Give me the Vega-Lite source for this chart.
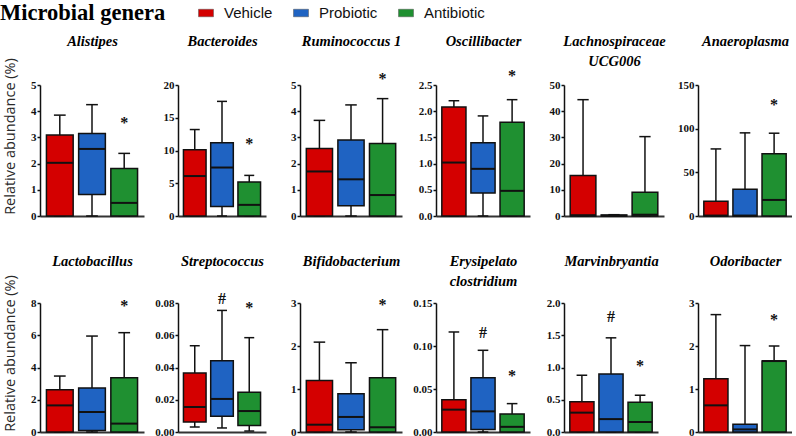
{
"$schema": "https://vega.github.io/schema/vega-lite/v6.json",
"padding": {"left": 0, "top": 5, "right": 0, "bottom": 2},
"columns": 6,
"bounds": "flush",
"align": "each",
"spacing": {"row": 87, "column": 34},
"datasets": {
"stats": [
{"genus":"Alistipes","group":"Vehicle","min":0,"q1":0,"median":2.03,"q3":3.09,"max":3.85},
{"genus":"Alistipes","group":"Probiotic","min":0,"q1":0.82,"median":2.56,"q3":3.15,"max":4.25},
{"genus":"Alistipes","group":"Antibiotic","min":0,"q1":0,"median":0.5,"q3":1.81,"max":2.39},
{"genus":"Bacteroides","group":"Vehicle","min":0,"q1":0,"median":6.1,"q3":10.1,"max":13.2},
{"genus":"Bacteroides","group":"Probiotic","min":0,"q1":1.45,"median":7.4,"q3":11.2,"max":17.5},
{"genus":"Bacteroides","group":"Antibiotic","min":0,"q1":0,"median":1.7,"q3":5.2,"max":6.2},
{"genus":"Ruminococcus 1","group":"Vehicle","min":0,"q1":0,"median":1.7,"q3":2.58,"max":3.65},
{"genus":"Ruminococcus 1","group":"Probiotic","min":0,"q1":0.39,"median":1.4,"q3":2.9,"max":4.24},
{"genus":"Ruminococcus 1","group":"Antibiotic","min":0,"q1":0,"median":0.8,"q3":2.77,"max":4.48},
{"genus":"Oscillibacter","group":"Vehicle","min":0,"q1":0,"median":1.02,"q3":2.08,"max":2.2},
{"genus":"Oscillibacter","group":"Probiotic","min":0,"q1":0.44,"median":0.9,"q3":1.4,"max":1.91},
{"genus":"Oscillibacter","group":"Antibiotic","min":0,"q1":0,"median":0.48,"q3":1.79,"max":2.22},
{"genus":"Lachnospiraceae UCG006","group":"Vehicle","min":0,"q1":0,"median":0.3,"q3":15.5,"max":44.4},
{"genus":"Lachnospiraceae UCG006","group":"Probiotic","min":0,"q1":0,"median":0.1,"q3":0.4,"max":0.5},
{"genus":"Lachnospiraceae UCG006","group":"Antibiotic","min":0,"q1":0,"median":0.5,"q3":9.1,"max":30.3},
{"genus":"Anaeroplasma","group":"Vehicle","min":0,"q1":0,"median":0.5,"q3":16.8,"max":76.8},
{"genus":"Anaeroplasma","group":"Probiotic","min":0,"q1":0,"median":0.5,"q3":30.5,"max":95.2},
{"genus":"Anaeroplasma","group":"Antibiotic","min":0,"q1":0,"median":18.4,"q3":71.3,"max":94.8},
{"genus":"Lactobacillus","group":"Vehicle","min":0,"q1":0,"median":1.65,"q3":2.62,"max":3.47},
{"genus":"Lactobacillus","group":"Probiotic","min":0,"q1":0.1,"median":1.24,"q3":2.73,"max":5.95},
{"genus":"Lactobacillus","group":"Antibiotic","min":0,"q1":0,"median":0.52,"q3":3.37,"max":6.16},
{"genus":"Streptococcus","group":"Vehicle","min":0.0031,"q1":0.0062,"median":0.0155,"q3":0.0366,"max":0.0535},
{"genus":"Streptococcus","group":"Probiotic","min":0.0025,"q1":0.0097,"median":0.0205,"q3":0.0442,"max":0.0754},
{"genus":"Streptococcus","group":"Antibiotic","min":0.0006,"q1":0.0041,"median":0.013,"q3":0.0246,"max":0.0585},
{"genus":"Bifidobacterium","group":"Vehicle","min":0,"q1":0,"median":0.17,"q3":1.2,"max":2.09},
{"genus":"Bifidobacterium","group":"Probiotic","min":0,"q1":0.05,"median":0.35,"q3":0.89,"max":1.61},
{"genus":"Bifidobacterium","group":"Antibiotic","min":0,"q1":0,"median":0.11,"q3":1.26,"max":2.38},
{"genus":"Erysipelatoclostridium","group":"Vehicle","min":0,"q1":0,"median":0.026,"q3":0.0376,"max":0.1163},
{"genus":"Erysipelatoclostridium","group":"Probiotic","min":0,"q1":0.003,"median":0.024,"q3":0.0632,"max":0.095},
{"genus":"Erysipelatoclostridium","group":"Antibiotic","min":0,"q1":0,"median":0.006,"q3":0.021,"max":0.033},
{"genus":"Marvinbryantia","group":"Vehicle","min":0,"q1":0,"median":0.3,"q3":0.47,"max":0.88},
{"genus":"Marvinbryantia","group":"Probiotic","min":0,"q1":0,"median":0.2,"q3":0.9,"max":1.46},
{"genus":"Marvinbryantia","group":"Antibiotic","min":0,"q1":0,"median":0.155,"q3":0.46,"max":0.57},
{"genus":"Odoribacter","group":"Vehicle","min":0,"q1":0,"median":0.62,"q3":1.24,"max":2.73},
{"genus":"Odoribacter","group":"Probiotic","min":0,"q1":0,"median":0.06,"q3":0.18,"max":2.01},
{"genus":"Odoribacter","group":"Antibiotic","min":0,"q1":0,"median":1.65,"q3":1.65,"max":2.0}
],
"ann": [
{"genus":"Alistipes","group":"Antibiotic","sym":"*","y":3.66},
{"genus":"Bacteroides","group":"Antibiotic","sym":"*","y":11.4},
{"genus":"Ruminococcus 1","group":"Antibiotic","sym":"*","y":5.36},
{"genus":"Oscillibacter","group":"Antibiotic","sym":"*","y":2.73},
{"genus":"Anaeroplasma","group":"Antibiotic","sym":"*","y":131},
{"genus":"Lactobacillus","group":"Antibiotic","sym":"*","y":8.0},
{"genus":"Streptococcus","group":"Probiotic","sym":"#","y":0.0842},
{"genus":"Streptococcus","group":"Antibiotic","sym":"*","y":0.0786},
{"genus":"Bifidobacterium","group":"Antibiotic","sym":"*","y":3.02},
{"genus":"Erysipelatoclostridium","group":"Probiotic","sym":"#","y":0.119},
{"genus":"Erysipelatoclostridium","group":"Antibiotic","sym":"*","y":0.069},
{"genus":"Marvinbryantia","group":"Probiotic","sym":"#","y":1.83},
{"genus":"Marvinbryantia","group":"Antibiotic","sym":"*","y":1.07},
{"genus":"Odoribacter","group":"Antibiotic","sym":"*","y":2.67}
]
},
"concat": [
{"width":104,"height":131,"data":{"name":"stats"},"transform":[{"filter":"datum.genus === 'Alistipes'"}],"resolve":{"axis":{"x":"independent"}},
"encoding":{"x":{"field":"group","type":"nominal","sort":["Vehicle","Probiotic","Antibiotic"],"scale":{"paddingInner":0.17,"paddingOuter":0.2},"axis":null}},
"layer":[
{"mark":{"type":"rule","color":"#111","strokeWidth":1.5},"encoding":{"x":{"field":"group","type":"nominal","sort":["Vehicle","Probiotic","Antibiotic"],"scale":{"paddingInner":0.17,"paddingOuter":0.2},"axis":{"title":null}},"y":{"field":"min","type":"quantitative","scale":{"domain":[0,5],"nice":false},"axis":{"values":[0,1,2,3,4,5],"format":"d","tickCount":20,"labelOverlap":false,"title":"Relative abundance (%)","titleFont":"Open Sans","titleFontSize":14.5,"titleFontWeight":"normal","titleColor":"#2a2a2a","titlePadding":13,"titleY":51}},"y2":{"field":"max"}}},
{"mark":{"type":"rule","color":"#111","strokeWidth":1.5},"encoding":{"x":{"field":"group","type":"nominal","sort":["Vehicle","Probiotic","Antibiotic"],"bandPosition":0.28,"axis":null},"x2":{"field":"group","bandPosition":0.72},"y":{"field":"max","type":"quantitative"}}},
{"mark":{"type":"rule","color":"#111","strokeWidth":1.5},"encoding":{"x":{"field":"group","type":"nominal","sort":["Vehicle","Probiotic","Antibiotic"],"bandPosition":0.28,"axis":null},"x2":{"field":"group","bandPosition":0.72},"y":{"field":"min","type":"quantitative"}}},
{"mark":{"type":"bar","stroke":"#111","strokeWidth":1.5},"encoding":{"y":{"field":"q1","type":"quantitative"},"y2":{"field":"q3"},"color":{"field":"group","type":"nominal","scale":{"domain":["Vehicle","Probiotic","Antibiotic"],"range":["#d40000","#1f63c2","#1f9031"]},"legend":{"title":"Microbial genera"}}}},
{"mark":{"type":"rule","color":"#111","strokeWidth":2},"encoding":{"x":{"field":"group","type":"nominal","sort":["Vehicle","Probiotic","Antibiotic"],"bandPosition":0,"axis":{"orient":"top","title":["Alistipes"],"titleY":-51}},"x2":{"field":"group","bandPosition":1},"y":{"field":"median","type":"quantitative"}}},
{"data":{"name":"ann"},"transform":[{"filter":"datum.genus === 'Alistipes'"}],"mark":{"type":"text","font":"Liberation Serif","fontWeight":"bold","fontSize":16,"baseline":"middle","dy":3,"color":"#111"},"encoding":{"y":{"field":"y","type":"quantitative"},"text":{"field":"sym"}}}
]},
{"width":88,"height":131,"data":{"name":"stats"},"transform":[{"filter":"datum.genus === 'Bacteroides'"}],"resolve":{"axis":{"x":"independent"}},
"encoding":{"x":{"field":"group","type":"nominal","sort":["Vehicle","Probiotic","Antibiotic"],"scale":{"paddingInner":0.17,"paddingOuter":0.2},"axis":null}},
"layer":[
{"mark":{"type":"rule","color":"#111","strokeWidth":1.5},"encoding":{"x":{"field":"group","type":"nominal","sort":["Vehicle","Probiotic","Antibiotic"],"scale":{"paddingInner":0.17,"paddingOuter":0.2},"axis":{"title":null}},"y":{"field":"min","type":"quantitative","scale":{"domain":[0,20],"nice":false},"axis":{"values":[0,5,10,15,20],"format":"d","tickCount":20,"labelOverlap":false,"title":null}},"y2":{"field":"max"}}},
{"mark":{"type":"rule","color":"#111","strokeWidth":1.5},"encoding":{"x":{"field":"group","type":"nominal","sort":["Vehicle","Probiotic","Antibiotic"],"bandPosition":0.28,"axis":null},"x2":{"field":"group","bandPosition":0.72},"y":{"field":"max","type":"quantitative"}}},
{"mark":{"type":"rule","color":"#111","strokeWidth":1.5},"encoding":{"x":{"field":"group","type":"nominal","sort":["Vehicle","Probiotic","Antibiotic"],"bandPosition":0.28,"axis":null},"x2":{"field":"group","bandPosition":0.72},"y":{"field":"min","type":"quantitative"}}},
{"mark":{"type":"bar","stroke":"#111","strokeWidth":1.5},"encoding":{"y":{"field":"q1","type":"quantitative"},"y2":{"field":"q3"},"color":{"field":"group","type":"nominal","scale":{"domain":["Vehicle","Probiotic","Antibiotic"],"range":["#d40000","#1f63c2","#1f9031"]},"legend":{"title":"Microbial genera"}}}},
{"mark":{"type":"rule","color":"#111","strokeWidth":2},"encoding":{"x":{"field":"group","type":"nominal","sort":["Vehicle","Probiotic","Antibiotic"],"bandPosition":0,"axis":{"orient":"top","title":["Bacteroides"],"titleY":-51}},"x2":{"field":"group","bandPosition":1},"y":{"field":"median","type":"quantitative"}}},
{"data":{"name":"ann"},"transform":[{"filter":"datum.genus === 'Bacteroides'"}],"mark":{"type":"text","font":"Liberation Serif","fontWeight":"bold","fontSize":16,"baseline":"middle","dy":3,"color":"#111"},"encoding":{"y":{"field":"y","type":"quantitative"},"text":{"field":"sym"}}}
]},
{"width":102,"height":131,"data":{"name":"stats"},"transform":[{"filter":"datum.genus === 'Ruminococcus 1'"}],"resolve":{"axis":{"x":"independent"}},
"encoding":{"x":{"field":"group","type":"nominal","sort":["Vehicle","Probiotic","Antibiotic"],"scale":{"paddingInner":0.17,"paddingOuter":0.2},"axis":null}},
"layer":[
{"mark":{"type":"rule","color":"#111","strokeWidth":1.5},"encoding":{"x":{"field":"group","type":"nominal","sort":["Vehicle","Probiotic","Antibiotic"],"scale":{"paddingInner":0.17,"paddingOuter":0.2},"axis":{"title":null}},"y":{"field":"min","type":"quantitative","scale":{"domain":[0,5],"nice":false},"axis":{"values":[0,1,2,3,4,5],"format":"d","tickCount":20,"labelOverlap":false,"title":null}},"y2":{"field":"max"}}},
{"mark":{"type":"rule","color":"#111","strokeWidth":1.5},"encoding":{"x":{"field":"group","type":"nominal","sort":["Vehicle","Probiotic","Antibiotic"],"bandPosition":0.28,"axis":null},"x2":{"field":"group","bandPosition":0.72},"y":{"field":"max","type":"quantitative"}}},
{"mark":{"type":"rule","color":"#111","strokeWidth":1.5},"encoding":{"x":{"field":"group","type":"nominal","sort":["Vehicle","Probiotic","Antibiotic"],"bandPosition":0.28,"axis":null},"x2":{"field":"group","bandPosition":0.72},"y":{"field":"min","type":"quantitative"}}},
{"mark":{"type":"bar","stroke":"#111","strokeWidth":1.5},"encoding":{"y":{"field":"q1","type":"quantitative"},"y2":{"field":"q3"},"color":{"field":"group","type":"nominal","scale":{"domain":["Vehicle","Probiotic","Antibiotic"],"range":["#d40000","#1f63c2","#1f9031"]},"legend":{"title":"Microbial genera"}}}},
{"mark":{"type":"rule","color":"#111","strokeWidth":2},"encoding":{"x":{"field":"group","type":"nominal","sort":["Vehicle","Probiotic","Antibiotic"],"bandPosition":0,"axis":{"orient":"top","title":["Ruminococcus 1"],"titleY":-51}},"x2":{"field":"group","bandPosition":1},"y":{"field":"median","type":"quantitative"}}},
{"data":{"name":"ann"},"transform":[{"filter":"datum.genus === 'Ruminococcus 1'"}],"mark":{"type":"text","font":"Liberation Serif","fontWeight":"bold","fontSize":16,"baseline":"middle","dy":3,"color":"#111"},"encoding":{"y":{"field":"y","type":"quantitative"},"text":{"field":"sym"}}}
]},
{"width":94,"height":131,"data":{"name":"stats"},"transform":[{"filter":"datum.genus === 'Oscillibacter'"}],"resolve":{"axis":{"x":"independent"}},
"encoding":{"x":{"field":"group","type":"nominal","sort":["Vehicle","Probiotic","Antibiotic"],"scale":{"paddingInner":0.17,"paddingOuter":0.2},"axis":null}},
"layer":[
{"mark":{"type":"rule","color":"#111","strokeWidth":1.5},"encoding":{"x":{"field":"group","type":"nominal","sort":["Vehicle","Probiotic","Antibiotic"],"scale":{"paddingInner":0.17,"paddingOuter":0.2},"axis":{"title":null}},"y":{"field":"min","type":"quantitative","scale":{"domain":[0,2.5],"nice":false},"axis":{"values":[0,0.5,1,1.5,2,2.5],"tickCount":20,"format":".1f","labelOverlap":false,"title":null}},"y2":{"field":"max"}}},
{"mark":{"type":"rule","color":"#111","strokeWidth":1.5},"encoding":{"x":{"field":"group","type":"nominal","sort":["Vehicle","Probiotic","Antibiotic"],"bandPosition":0.28,"axis":null},"x2":{"field":"group","bandPosition":0.72},"y":{"field":"max","type":"quantitative"}}},
{"mark":{"type":"rule","color":"#111","strokeWidth":1.5},"encoding":{"x":{"field":"group","type":"nominal","sort":["Vehicle","Probiotic","Antibiotic"],"bandPosition":0.28,"axis":null},"x2":{"field":"group","bandPosition":0.72},"y":{"field":"min","type":"quantitative"}}},
{"mark":{"type":"bar","stroke":"#111","strokeWidth":1.5},"encoding":{"y":{"field":"q1","type":"quantitative"},"y2":{"field":"q3"},"color":{"field":"group","type":"nominal","scale":{"domain":["Vehicle","Probiotic","Antibiotic"],"range":["#d40000","#1f63c2","#1f9031"]},"legend":{"title":"Microbial genera"}}}},
{"mark":{"type":"rule","color":"#111","strokeWidth":2},"encoding":{"x":{"field":"group","type":"nominal","sort":["Vehicle","Probiotic","Antibiotic"],"bandPosition":0,"axis":{"orient":"top","title":["Oscillibacter"],"titleY":-51}},"x2":{"field":"group","bandPosition":1},"y":{"field":"median","type":"quantitative"}}},
{"data":{"name":"ann"},"transform":[{"filter":"datum.genus === 'Oscillibacter'"}],"mark":{"type":"text","font":"Liberation Serif","fontWeight":"bold","fontSize":16,"baseline":"middle","dy":3,"color":"#111"},"encoding":{"y":{"field":"y","type":"quantitative"},"text":{"field":"sym"}}}
]},
{"width":100,"height":131,"data":{"name":"stats"},"transform":[{"filter":"datum.genus === 'Lachnospiraceae UCG006'"}],"resolve":{"axis":{"x":"independent"}},
"encoding":{"x":{"field":"group","type":"nominal","sort":["Vehicle","Probiotic","Antibiotic"],"scale":{"paddingInner":0.17,"paddingOuter":0.2},"axis":null}},
"layer":[
{"mark":{"type":"rule","color":"#111","strokeWidth":1.5},"encoding":{"x":{"field":"group","type":"nominal","sort":["Vehicle","Probiotic","Antibiotic"],"scale":{"paddingInner":0.17,"paddingOuter":0.2},"axis":{"title":null}},"y":{"field":"min","type":"quantitative","scale":{"domain":[0,50],"nice":false},"axis":{"values":[0,10,20,30,40,50],"format":"d","tickCount":20,"labelOverlap":false,"title":null}},"y2":{"field":"max"}}},
{"mark":{"type":"rule","color":"#111","strokeWidth":1.5},"encoding":{"x":{"field":"group","type":"nominal","sort":["Vehicle","Probiotic","Antibiotic"],"bandPosition":0.28,"axis":null},"x2":{"field":"group","bandPosition":0.72},"y":{"field":"max","type":"quantitative"}}},
{"mark":{"type":"rule","color":"#111","strokeWidth":1.5},"encoding":{"x":{"field":"group","type":"nominal","sort":["Vehicle","Probiotic","Antibiotic"],"bandPosition":0.28,"axis":null},"x2":{"field":"group","bandPosition":0.72},"y":{"field":"min","type":"quantitative"}}},
{"mark":{"type":"bar","stroke":"#111","strokeWidth":1.5},"encoding":{"y":{"field":"q1","type":"quantitative"},"y2":{"field":"q3"},"color":{"field":"group","type":"nominal","scale":{"domain":["Vehicle","Probiotic","Antibiotic"],"range":["#d40000","#1f63c2","#1f9031"]},"legend":{"title":"Microbial genera"}}}},
{"mark":{"type":"rule","color":"#111","strokeWidth":2},"encoding":{"x":{"field":"group","type":"nominal","sort":["Vehicle","Probiotic","Antibiotic"],"bandPosition":0,"axis":{"orient":"top","title":["Lachnospiraceae","UCG006"],"titleY":-51}},"x2":{"field":"group","bandPosition":1},"y":{"field":"median","type":"quantitative"}}}
]},
{"width":94,"height":131,"data":{"name":"stats"},"transform":[{"filter":"datum.genus === 'Anaeroplasma'"}],"resolve":{"axis":{"x":"independent"}},
"encoding":{"x":{"field":"group","type":"nominal","sort":["Vehicle","Probiotic","Antibiotic"],"scale":{"paddingInner":0.17,"paddingOuter":0.2},"axis":null}},
"layer":[
{"mark":{"type":"rule","color":"#111","strokeWidth":1.5},"encoding":{"x":{"field":"group","type":"nominal","sort":["Vehicle","Probiotic","Antibiotic"],"scale":{"paddingInner":0.17,"paddingOuter":0.2},"axis":{"title":null}},"y":{"field":"min","type":"quantitative","scale":{"domain":[0,150],"nice":false},"axis":{"values":[0,50,100,150],"format":"d","tickCount":20,"labelOverlap":false,"title":null}},"y2":{"field":"max"}}},
{"mark":{"type":"rule","color":"#111","strokeWidth":1.5},"encoding":{"x":{"field":"group","type":"nominal","sort":["Vehicle","Probiotic","Antibiotic"],"bandPosition":0.28,"axis":null},"x2":{"field":"group","bandPosition":0.72},"y":{"field":"max","type":"quantitative"}}},
{"mark":{"type":"rule","color":"#111","strokeWidth":1.5},"encoding":{"x":{"field":"group","type":"nominal","sort":["Vehicle","Probiotic","Antibiotic"],"bandPosition":0.28,"axis":null},"x2":{"field":"group","bandPosition":0.72},"y":{"field":"min","type":"quantitative"}}},
{"mark":{"type":"bar","stroke":"#111","strokeWidth":1.5},"encoding":{"y":{"field":"q1","type":"quantitative"},"y2":{"field":"q3"},"color":{"field":"group","type":"nominal","scale":{"domain":["Vehicle","Probiotic","Antibiotic"],"range":["#d40000","#1f63c2","#1f9031"]},"legend":{"title":"Microbial genera"}}}},
{"mark":{"type":"rule","color":"#111","strokeWidth":2},"encoding":{"x":{"field":"group","type":"nominal","sort":["Vehicle","Probiotic","Antibiotic"],"bandPosition":0,"axis":{"orient":"top","title":["Anaeroplasma"],"titleY":-51}},"x2":{"field":"group","bandPosition":1},"y":{"field":"median","type":"quantitative"}}},
{"data":{"name":"ann"},"transform":[{"filter":"datum.genus === 'Anaeroplasma'"}],"mark":{"type":"text","font":"Liberation Serif","fontWeight":"bold","fontSize":16,"baseline":"middle","dy":3,"color":"#111"},"encoding":{"y":{"field":"y","type":"quantitative"},"text":{"field":"sym"}}}
]},
{"width":104,"height":129,"data":{"name":"stats"},"transform":[{"filter":"datum.genus === 'Lactobacillus'"}],"resolve":{"axis":{"x":"independent"}},
"encoding":{"x":{"field":"group","type":"nominal","sort":["Vehicle","Probiotic","Antibiotic"],"scale":{"paddingInner":0.17,"paddingOuter":0.2},"axis":null}},
"layer":[
{"mark":{"type":"rule","color":"#111","strokeWidth":1.5},"encoding":{"x":{"field":"group","type":"nominal","sort":["Vehicle","Probiotic","Antibiotic"],"scale":{"paddingInner":0.17,"paddingOuter":0.2},"axis":{"title":null}},"y":{"field":"min","type":"quantitative","scale":{"domain":[0,8],"nice":false},"axis":{"values":[0,2,4,6,8],"format":"d","tickCount":20,"labelOverlap":false,"title":"Relative abundance (%)","titleFont":"Open Sans","titleFontSize":14.5,"titleFontWeight":"normal","titleColor":"#2a2a2a","titlePadding":13,"titleY":50}},"y2":{"field":"max"}}},
{"mark":{"type":"rule","color":"#111","strokeWidth":1.5},"encoding":{"x":{"field":"group","type":"nominal","sort":["Vehicle","Probiotic","Antibiotic"],"bandPosition":0.28,"axis":null},"x2":{"field":"group","bandPosition":0.72},"y":{"field":"max","type":"quantitative"}}},
{"mark":{"type":"rule","color":"#111","strokeWidth":1.5},"encoding":{"x":{"field":"group","type":"nominal","sort":["Vehicle","Probiotic","Antibiotic"],"bandPosition":0.28,"axis":null},"x2":{"field":"group","bandPosition":0.72},"y":{"field":"min","type":"quantitative"}}},
{"mark":{"type":"bar","stroke":"#111","strokeWidth":1.5},"encoding":{"y":{"field":"q1","type":"quantitative"},"y2":{"field":"q3"},"color":{"field":"group","type":"nominal","scale":{"domain":["Vehicle","Probiotic","Antibiotic"],"range":["#d40000","#1f63c2","#1f9031"]},"legend":{"title":"Microbial genera"}}}},
{"mark":{"type":"rule","color":"#111","strokeWidth":2},"encoding":{"x":{"field":"group","type":"nominal","sort":["Vehicle","Probiotic","Antibiotic"],"bandPosition":0,"axis":{"orient":"top","title":["Lactobacillus"],"titleY":-49}},"x2":{"field":"group","bandPosition":1},"y":{"field":"median","type":"quantitative"}}},
{"data":{"name":"ann"},"transform":[{"filter":"datum.genus === 'Lactobacillus'"}],"mark":{"type":"text","font":"Liberation Serif","fontWeight":"bold","fontSize":16,"baseline":"middle","dy":3,"color":"#111"},"encoding":{"y":{"field":"y","type":"quantitative"},"text":{"field":"sym"}}}
]},
{"width":88,"height":129,"data":{"name":"stats"},"transform":[{"filter":"datum.genus === 'Streptococcus'"}],"resolve":{"axis":{"x":"independent"}},
"encoding":{"x":{"field":"group","type":"nominal","sort":["Vehicle","Probiotic","Antibiotic"],"scale":{"paddingInner":0.17,"paddingOuter":0.2},"axis":null}},
"layer":[
{"mark":{"type":"rule","color":"#111","strokeWidth":1.5},"encoding":{"x":{"field":"group","type":"nominal","sort":["Vehicle","Probiotic","Antibiotic"],"scale":{"paddingInner":0.17,"paddingOuter":0.2},"axis":{"title":null}},"y":{"field":"min","type":"quantitative","scale":{"domain":[0,0.08],"nice":false},"axis":{"values":[0,0.02,0.04,0.06,0.08],"tickCount":20,"format":".2f","labelOverlap":false,"title":null}},"y2":{"field":"max"}}},
{"mark":{"type":"rule","color":"#111","strokeWidth":1.5},"encoding":{"x":{"field":"group","type":"nominal","sort":["Vehicle","Probiotic","Antibiotic"],"bandPosition":0.28,"axis":null},"x2":{"field":"group","bandPosition":0.72},"y":{"field":"max","type":"quantitative"}}},
{"mark":{"type":"rule","color":"#111","strokeWidth":1.5},"encoding":{"x":{"field":"group","type":"nominal","sort":["Vehicle","Probiotic","Antibiotic"],"bandPosition":0.28,"axis":null},"x2":{"field":"group","bandPosition":0.72},"y":{"field":"min","type":"quantitative"}}},
{"mark":{"type":"bar","stroke":"#111","strokeWidth":1.5},"encoding":{"y":{"field":"q1","type":"quantitative"},"y2":{"field":"q3"},"color":{"field":"group","type":"nominal","scale":{"domain":["Vehicle","Probiotic","Antibiotic"],"range":["#d40000","#1f63c2","#1f9031"]},"legend":{"title":"Microbial genera"}}}},
{"mark":{"type":"rule","color":"#111","strokeWidth":2},"encoding":{"x":{"field":"group","type":"nominal","sort":["Vehicle","Probiotic","Antibiotic"],"bandPosition":0,"axis":{"orient":"top","title":["Streptococcus"],"titleY":-49}},"x2":{"field":"group","bandPosition":1},"y":{"field":"median","type":"quantitative"}}},
{"data":{"name":"ann"},"transform":[{"filter":"datum.genus === 'Streptococcus'"}],"mark":{"type":"text","font":"Liberation Serif","fontWeight":"bold","fontSize":16,"baseline":"middle","dy":3,"color":"#111"},"encoding":{"y":{"field":"y","type":"quantitative"},"text":{"field":"sym"}}}
]},
{"width":102,"height":129,"data":{"name":"stats"},"transform":[{"filter":"datum.genus === 'Bifidobacterium'"}],"resolve":{"axis":{"x":"independent"}},
"encoding":{"x":{"field":"group","type":"nominal","sort":["Vehicle","Probiotic","Antibiotic"],"scale":{"paddingInner":0.17,"paddingOuter":0.2},"axis":null}},
"layer":[
{"mark":{"type":"rule","color":"#111","strokeWidth":1.5},"encoding":{"x":{"field":"group","type":"nominal","sort":["Vehicle","Probiotic","Antibiotic"],"scale":{"paddingInner":0.17,"paddingOuter":0.2},"axis":{"title":null}},"y":{"field":"min","type":"quantitative","scale":{"domain":[0,3],"nice":false},"axis":{"values":[0,1,2,3],"format":"d","tickCount":20,"labelOverlap":false,"title":null}},"y2":{"field":"max"}}},
{"mark":{"type":"rule","color":"#111","strokeWidth":1.5},"encoding":{"x":{"field":"group","type":"nominal","sort":["Vehicle","Probiotic","Antibiotic"],"bandPosition":0.28,"axis":null},"x2":{"field":"group","bandPosition":0.72},"y":{"field":"max","type":"quantitative"}}},
{"mark":{"type":"rule","color":"#111","strokeWidth":1.5},"encoding":{"x":{"field":"group","type":"nominal","sort":["Vehicle","Probiotic","Antibiotic"],"bandPosition":0.28,"axis":null},"x2":{"field":"group","bandPosition":0.72},"y":{"field":"min","type":"quantitative"}}},
{"mark":{"type":"bar","stroke":"#111","strokeWidth":1.5},"encoding":{"y":{"field":"q1","type":"quantitative"},"y2":{"field":"q3"},"color":{"field":"group","type":"nominal","scale":{"domain":["Vehicle","Probiotic","Antibiotic"],"range":["#d40000","#1f63c2","#1f9031"]},"legend":{"title":"Microbial genera"}}}},
{"mark":{"type":"rule","color":"#111","strokeWidth":2},"encoding":{"x":{"field":"group","type":"nominal","sort":["Vehicle","Probiotic","Antibiotic"],"bandPosition":0,"axis":{"orient":"top","title":["Bifidobacterium"],"titleY":-49}},"x2":{"field":"group","bandPosition":1},"y":{"field":"median","type":"quantitative"}}},
{"data":{"name":"ann"},"transform":[{"filter":"datum.genus === 'Bifidobacterium'"}],"mark":{"type":"text","font":"Liberation Serif","fontWeight":"bold","fontSize":16,"baseline":"middle","dy":3,"color":"#111"},"encoding":{"y":{"field":"y","type":"quantitative"},"text":{"field":"sym"}}}
]},
{"width":94,"height":129,"data":{"name":"stats"},"transform":[{"filter":"datum.genus === 'Erysipelatoclostridium'"}],"resolve":{"axis":{"x":"independent"}},
"encoding":{"x":{"field":"group","type":"nominal","sort":["Vehicle","Probiotic","Antibiotic"],"scale":{"paddingInner":0.17,"paddingOuter":0.2},"axis":null}},
"layer":[
{"mark":{"type":"rule","color":"#111","strokeWidth":1.5},"encoding":{"x":{"field":"group","type":"nominal","sort":["Vehicle","Probiotic","Antibiotic"],"scale":{"paddingInner":0.17,"paddingOuter":0.2},"axis":{"title":null}},"y":{"field":"min","type":"quantitative","scale":{"domain":[0,0.15],"nice":false},"axis":{"values":[0,0.05,0.1,0.15],"tickCount":20,"format":".2f","labelOverlap":false,"title":null}},"y2":{"field":"max"}}},
{"mark":{"type":"rule","color":"#111","strokeWidth":1.5},"encoding":{"x":{"field":"group","type":"nominal","sort":["Vehicle","Probiotic","Antibiotic"],"bandPosition":0.28,"axis":null},"x2":{"field":"group","bandPosition":0.72},"y":{"field":"max","type":"quantitative"}}},
{"mark":{"type":"rule","color":"#111","strokeWidth":1.5},"encoding":{"x":{"field":"group","type":"nominal","sort":["Vehicle","Probiotic","Antibiotic"],"bandPosition":0.28,"axis":null},"x2":{"field":"group","bandPosition":0.72},"y":{"field":"min","type":"quantitative"}}},
{"mark":{"type":"bar","stroke":"#111","strokeWidth":1.5},"encoding":{"y":{"field":"q1","type":"quantitative"},"y2":{"field":"q3"},"color":{"field":"group","type":"nominal","scale":{"domain":["Vehicle","Probiotic","Antibiotic"],"range":["#d40000","#1f63c2","#1f9031"]},"legend":{"title":"Microbial genera"}}}},
{"mark":{"type":"rule","color":"#111","strokeWidth":2},"encoding":{"x":{"field":"group","type":"nominal","sort":["Vehicle","Probiotic","Antibiotic"],"bandPosition":0,"axis":{"orient":"top","title":["Erysipelato","clostridium"],"titleY":-49}},"x2":{"field":"group","bandPosition":1},"y":{"field":"median","type":"quantitative"}}},
{"data":{"name":"ann"},"transform":[{"filter":"datum.genus === 'Erysipelatoclostridium'"}],"mark":{"type":"text","font":"Liberation Serif","fontWeight":"bold","fontSize":16,"baseline":"middle","dy":3,"color":"#111"},"encoding":{"y":{"field":"y","type":"quantitative"},"text":{"field":"sym"}}}
]},
{"width":94,"height":129,"data":{"name":"stats"},"transform":[{"filter":"datum.genus === 'Marvinbryantia'"}],"resolve":{"axis":{"x":"independent"}},
"encoding":{"x":{"field":"group","type":"nominal","sort":["Vehicle","Probiotic","Antibiotic"],"scale":{"paddingInner":0.17,"paddingOuter":0.2},"axis":null}},
"layer":[
{"mark":{"type":"rule","color":"#111","strokeWidth":1.5},"encoding":{"x":{"field":"group","type":"nominal","sort":["Vehicle","Probiotic","Antibiotic"],"scale":{"paddingInner":0.17,"paddingOuter":0.2},"axis":{"title":null}},"y":{"field":"min","type":"quantitative","scale":{"domain":[0,2],"nice":false},"axis":{"values":[0,0.5,1,1.5,2],"tickCount":20,"format":".1f","labelOverlap":false,"title":null}},"y2":{"field":"max"}}},
{"mark":{"type":"rule","color":"#111","strokeWidth":1.5},"encoding":{"x":{"field":"group","type":"nominal","sort":["Vehicle","Probiotic","Antibiotic"],"bandPosition":0.28,"axis":null},"x2":{"field":"group","bandPosition":0.72},"y":{"field":"max","type":"quantitative"}}},
{"mark":{"type":"rule","color":"#111","strokeWidth":1.5},"encoding":{"x":{"field":"group","type":"nominal","sort":["Vehicle","Probiotic","Antibiotic"],"bandPosition":0.28,"axis":null},"x2":{"field":"group","bandPosition":0.72},"y":{"field":"min","type":"quantitative"}}},
{"mark":{"type":"bar","stroke":"#111","strokeWidth":1.5},"encoding":{"y":{"field":"q1","type":"quantitative"},"y2":{"field":"q3"},"color":{"field":"group","type":"nominal","scale":{"domain":["Vehicle","Probiotic","Antibiotic"],"range":["#d40000","#1f63c2","#1f9031"]},"legend":{"title":"Microbial genera"}}}},
{"mark":{"type":"rule","color":"#111","strokeWidth":2},"encoding":{"x":{"field":"group","type":"nominal","sort":["Vehicle","Probiotic","Antibiotic"],"bandPosition":0,"axis":{"orient":"top","title":["Marvinbryantia"],"titleY":-49}},"x2":{"field":"group","bandPosition":1},"y":{"field":"median","type":"quantitative"}}},
{"data":{"name":"ann"},"transform":[{"filter":"datum.genus === 'Marvinbryantia'"}],"mark":{"type":"text","font":"Liberation Serif","fontWeight":"bold","fontSize":16,"baseline":"middle","dy":3,"color":"#111"},"encoding":{"y":{"field":"y","type":"quantitative"},"text":{"field":"sym"}}}
]},
{"width":94,"height":129,"data":{"name":"stats"},"transform":[{"filter":"datum.genus === 'Odoribacter'"}],"resolve":{"axis":{"x":"independent"}},
"encoding":{"x":{"field":"group","type":"nominal","sort":["Vehicle","Probiotic","Antibiotic"],"scale":{"paddingInner":0.17,"paddingOuter":0.2},"axis":null}},
"layer":[
{"mark":{"type":"rule","color":"#111","strokeWidth":1.5},"encoding":{"x":{"field":"group","type":"nominal","sort":["Vehicle","Probiotic","Antibiotic"],"scale":{"paddingInner":0.17,"paddingOuter":0.2},"axis":{"title":null}},"y":{"field":"min","type":"quantitative","scale":{"domain":[0,3],"nice":false},"axis":{"values":[0,1,2,3],"format":"d","tickCount":20,"labelOverlap":false,"title":null}},"y2":{"field":"max"}}},
{"mark":{"type":"rule","color":"#111","strokeWidth":1.5},"encoding":{"x":{"field":"group","type":"nominal","sort":["Vehicle","Probiotic","Antibiotic"],"bandPosition":0.28,"axis":null},"x2":{"field":"group","bandPosition":0.72},"y":{"field":"max","type":"quantitative"}}},
{"mark":{"type":"rule","color":"#111","strokeWidth":1.5},"encoding":{"x":{"field":"group","type":"nominal","sort":["Vehicle","Probiotic","Antibiotic"],"bandPosition":0.28,"axis":null},"x2":{"field":"group","bandPosition":0.72},"y":{"field":"min","type":"quantitative"}}},
{"mark":{"type":"bar","stroke":"#111","strokeWidth":1.5},"encoding":{"y":{"field":"q1","type":"quantitative"},"y2":{"field":"q3"},"color":{"field":"group","type":"nominal","scale":{"domain":["Vehicle","Probiotic","Antibiotic"],"range":["#d40000","#1f63c2","#1f9031"]},"legend":{"title":"Microbial genera"}}}},
{"mark":{"type":"rule","color":"#111","strokeWidth":2},"encoding":{"x":{"field":"group","type":"nominal","sort":["Vehicle","Probiotic","Antibiotic"],"bandPosition":0,"axis":{"orient":"top","title":["Odoribacter"],"titleY":-49}},"x2":{"field":"group","bandPosition":1},"y":{"field":"median","type":"quantitative"}}},
{"data":{"name":"ann"},"transform":[{"filter":"datum.genus === 'Odoribacter'"}],"mark":{"type":"text","font":"Liberation Serif","fontWeight":"bold","fontSize":16,"baseline":"middle","dy":3,"color":"#111"},"encoding":{"y":{"field":"y","type":"quantitative"},"text":{"field":"sym"}}}
]}
],
"config": {
"view": {"stroke": null},
"axis": {"grid": false, "labelOverlap": false, "domainColor": "#111", "domainWidth": 1.5, "tickColor": "#111", "tickWidth": 1.5, "tickSize": 3, "labelFont": "Liberation Serif", "labelFontWeight": "bold", "labelFontSize": 11, "labelColor": "#111", "labelPadding": 1},
"axisY": {"labelOverlap": false, "labelBound": false, "tickCount": 20},
"axisX": {"labels": false, "ticks": false, "domainColor": "#333", "domainWidth": 2},
"axisTop": {"domain": false, "labels": false, "ticks": false, "titleFont": "Liberation Serif", "titleFontStyle": "italic", "titleFontWeight": "bold", "titleFontSize": 14.5, "titleColor": "#000", "titleBaseline": "top", "titleLineHeight": 20},
"legend": {"orient": "none", "legendX": -40, "legendY": -80, "direction": "horizontal", "titleOrient": "left", "titleFont": "Liberation Serif", "titleFontSize": 22.5, "titleFontWeight": "bold", "titleColor": "#000", "titlePadding": 32, "labelFont": "Liberation Sans", "labelFontSize": 15, "labelColor": "#111", "symbolType": "M-1,-0.5H1V0.5H-1Z", "symbolSize": 225, "symbolStrokeColor": "#555", "symbolStrokeWidth": 0.5, "columnPadding": 19, "labelOffset": 10}
}
}
